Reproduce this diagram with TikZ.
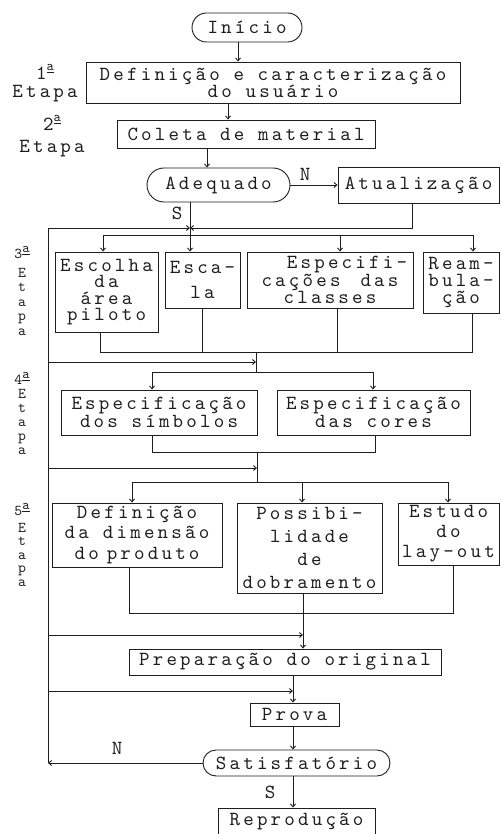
\documentclass[tikz,border=0pt]{standalone}
\usepackage{fontspec}
\usetikzlibrary{arrows.meta,shapes.misc}
\definecolor{ink}{RGB}{30,30,30}
\newfontfamily\typew{lmmono10-regular.otf}[LetterSpace=16]
\newcommand{\monof}[1]{\typew\fontsize{20}{#1}\selectfont}
\newcommand{\monos}[1]{\typew\fontsize{15}{#1}\selectfont}
\newcommand{\ordA}{\raisebox{0.42em}{\fontsize{14}{14}\selectfont\underline{a}}}
\begin{document}
\begin{tikzpicture}[x=1pt,y=-1pt,line width=0.9pt,color=ink,
  box/.style={draw,inner sep=0pt,align=center,font={\monof{17}}},
  oval/.style={draw,rounded rectangle,inner sep=0pt,font={\monof{17}}},
  lbl/.style={inner sep=0pt,font={\monof{17}}},
  arr/.style={-{Straight Barb[length=3pt,width=5pt]}}]
\useasboundingbox (0,0) rectangle (501,834);
\fill[white] (0,0) rectangle (501,834);
\clip (0,0) rectangle (501,834);

% nodes
\node[oval,minimum width=110,minimum height=29] (inicio) at (247,27.5) {Início};
\node[box,minimum width=374,minimum height=41] (def) at (273,82.5) {Definição e caracterização\\do usuário};
\node[box,minimum width=258,minimum height=28] (col) at (246,134) {Coleta de material};
\node[oval,minimum width=143,minimum height=34] (adeq) at (218.5,185) {Adequado};
\node[box,minimum width=161,minimum height=36] (atual) at (418.5,185) {Atualização};
\node[box,minimum width=103,minimum height=80,font={\monof{16.5}}] (esc) at (106.5,292) {Escolha\\da\\área\\piloto};
\node[box,minimum width=75,minimum height=56,font={\monof{25}}] (escala) at (202.5,280) {Esca-\\la};
\node[box,minimum width=166,minimum height=56,font={\monof{17.5}}] (espc) at (330,280) {\hspace*{34pt}Especifi-\\cações\hspace{20pt}das\\classes};
\node[box,minimum width=76,minimum height=61] (ream) at (461,282.5) {Ream-\\bula-\\ção};
\node[box,minimum width=196,minimum height=45,font={\monof{18}}] (esim) at (159,412.5) {Especificação\\dos símbolos};
\node[box,minimum width=193,minimum height=45,font={\monof{18}}] (ecor) at (373.5,412.5) {Especificação\\das cores};
\node[box,minimum width=170,minimum height=64,font={\monof{20.5}}] (ddim) at (137,535) {Definição\\da\hspace{14pt}dimensão\\do\hspace{8pt}produto};
\node[box,minimum width=145,minimum height=90,font={\monof{23}}] (poss) at (309.5,548) {Possibi-\\lidade\\de\\dobramento};
\node[box,minimum width=101,minimum height=62,font={\monof{20}}] (estu) at (448.5,534) {Estudo\\do\\lay-out};
\node[box,minimum width=312,minimum height=26] (prep) at (285,662) {Preparação do original};
\node[box,minimum width=89,minimum height=23] (prova) at (294.5,714.5) {Prova};
\node[oval,minimum width=187,minimum height=26] (satis) at (296.5,763) {Satisfatório};
\node[box,minimum width=157,minimum height=28] (repr) at (296.5,822) {Reprodução};

% stage labels
\node[lbl,anchor=north,align=center,font={\monof{18}}] (e1) at (45,64) {1\ordA\\Etapa};
\node[lbl,anchor=north,align=center,font={\monof{22}}] (e2) at (52,115) {2\ordA\\Etapa};
\node[lbl,anchor=north,align=center,font={\monos{14.5}}] (e3) at (22,246) {3\ordA\\[4pt]E\\t\\a\\p\\a};
\node[lbl,anchor=north,align=center,font={\monos{14}}] (e4) at (22,372) {4\ordA\\E\\t\\a\\p\\a};
\node[lbl,anchor=north,align=center,font={\monos{13.5}}] (e5) at (22,503) {5\ordA\\[3pt]E\\t\\a\\p\\a};

% decision labels
\node[lbl] (n1) at (305,174) {N};
\node[lbl] (s1) at (177,213) {S};
\node[lbl] (n2) at (117,748) {N};
\node[lbl] (s2) at (270,792) {S};

% junction coordinates
\coordinate (L1) at (48,228);
\coordinate (J1) at (190,228);
\coordinate (L2) at (48,763);
\coordinate (d3a) at (103,235);
\coordinate (d3c) at (340,235);
\coordinate (d3d) at (473,235);
\coordinate (c3a) at (100,352);
\coordinate (c3c) at (337,352);
\coordinate (c3d) at (472,352);
\coordinate (C3) at (256,352);
\coordinate (J3) at (256,362);
\coordinate (D4) at (256,372);
\coordinate (d4a) at (152,372);
\coordinate (d4b) at (373,372);
\coordinate (c4a) at (152,452);
\coordinate (c4b) at (375,452);
\coordinate (C4) at (257,452);
\coordinate (J4) at (257,468);
\coordinate (D5) at (257,482);
\coordinate (d5a) at (132,482);
\coordinate (d5b) at (302,482);
\coordinate (d5c) at (448,482);
\coordinate (c5a) at (129,613);
\coordinate (c5c) at (453,613);
\coordinate (C5) at (303,613);
\coordinate (J5) at (303,635);
\coordinate (J6) at (293,691);
\coordinate (a1) at ([xshift=-9pt]inicio.south);
\coordinate (a2) at ([xshift=-45pt]def.south);
\coordinate (a3) at ([xshift=-39pt]col.south);

% top part
\draw[arr] (a1) -- (a1 |- def.north);
\draw[arr] (a2) -- (a2 |- col.north);
\draw[arr] (a3) -- (a3 |- adeq.north);
\draw[arr] (adeq.east) -- (atual.west);
\draw[arr] ([xshift=-6.5pt]atual.south) |- (J1);
\draw[arr] (adeq.south -| J1) -- (escala.north -| J1);

% feedback loop
\draw[arr] (satis.west) -- (L2);
\draw (L2) -- (L1);
\draw[arr] (L1) -- (J1);
\draw[arr] (L1 |- J3) -- (J3);
\draw[arr] (L1 |- J4) -- (J4);
\draw[arr] (L1 |- J5) -- (J5);
\draw[arr] (L1 |- J6) -- (J6);

% stage 3
\draw (d3a) -- (d3d);
\draw[arr] (d3a) -- (d3a |- esc.north);
\draw[arr] (d3c) -- (d3c |- espc.north);
\draw[arr] (d3d) -- (d3d |- ream.north);
\draw (c3a |- esc.south) -- (c3a) -- (c3d) -- (c3d |- ream.south);
\draw (escala.south) -- (escala.south |- C3);
\draw (c3c |- espc.south) -- (c3c);
\draw (C3) -- (D4);

% stage 4
\draw (d4a) -- (d4b);
\draw[arr] (d4a) -- (d4a |- esim.north);
\draw[arr] (d4b) -- (d4b |- ecor.north);
\draw (c4a |- esim.south) -- (c4a) -- (c4b) -- (c4b |- ecor.south);
\draw (C4) -- (D5);

% stage 5
\draw (d5a) -- (d5c);
\draw[arr] (d5a) -- (d5a |- ddim.north);
\draw[arr] (d5b) -- (d5b |- poss.north);
\draw[arr] (d5c) -- (d5c |- estu.north);
\draw (c5a |- ddim.south) -- (c5a) -- (c5c) -- (c5c |- estu.south);
\draw (C5 |- poss.south) -- (C5);
\draw[arr] (C5) -- (C5 |- prep.north);

% final part
\draw[arr] (prep.south -| J6) -- (prova.north -| J6);
\draw[arr] (prova.south -| J6) -- (satis.north -| J6);
\draw[arr] (satis.south -| J6) -- (repr.north -| J6);
\end{tikzpicture}
\end{document}
